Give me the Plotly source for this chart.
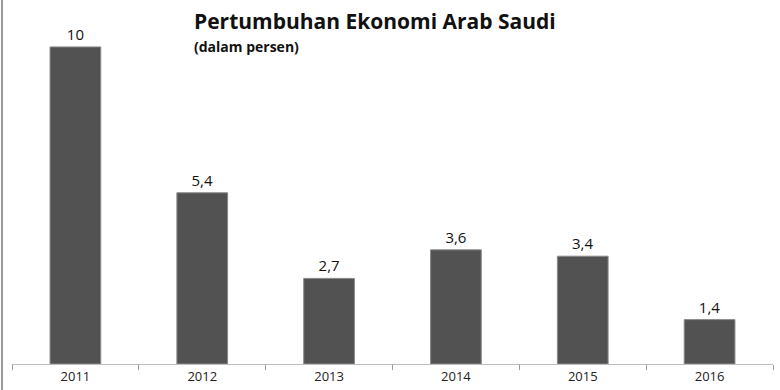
import plotly.graph_objects as go

years = ["2011", "2012", "2013", "2014", "2015", "2016"]
growth = [10, 5.4, 2.7, 3.6, 3.4, 1.4]
labels = ["10", "5,4", "2,7", "3,6", "3,4", "1,4"]

fig = go.Figure(go.Bar(
    x=years, y=growth, text=labels, textposition="outside",
    textfont=dict(family="Open Sans", size=15, color="#111"),
    marker=dict(color="#525252", line=dict(color="#8a8a8a", width=1)),
    cliponaxis=False,
))

fig.update_layout(
    width=780, height=390,
    margin=dict(l=12, r=7, t=0, b=26),
    paper_bgcolor="white", plot_bgcolor="white",
    bargap=0.6, showlegend=False,
    xaxis=dict(type="category", showline=True, linecolor="#bdbdbd", linewidth=1,
               ticks="outside", ticklen=5, tickcolor="#9a9a9a", tickson="boundaries",
               tickfont=dict(family="Open Sans", size=13, color="#222"), showgrid=False,
               automargin=False),
    yaxis=dict(range=[0, 11.48], visible=False, showgrid=False),
    annotations=[
        dict(text="<b>Pertumbuhan Ekonomi Arab Saudi</b>", xref="paper", yref="paper",
             x=(192 - 12) / 761, y=(364 - 21) / 364, xanchor="left", yanchor="middle",
             showarrow=False, font=dict(family="Open Sans", size=21, color="#111")),
        dict(text="<b>(dalam persen)</b>", xref="paper", yref="paper",
             x=(192 - 12) / 761, y=(364 - 46) / 364, xanchor="left", yanchor="middle",
             showarrow=False, font=dict(family="Open Sans", size=14, color="#111")),
    ],
    shapes=[dict(type="line", xref="paper", yref="paper",
                 x0=-10 / 761, x1=-10 / 761, y0=-26 / 364, y1=1,
                 line=dict(color="#9a9a9a", width=2))],
)

fig.write_html("out.html", config={"displayModeBar": False},
               post_script="document.body.style.margin='0';document.body.style.overflow='hidden';")
